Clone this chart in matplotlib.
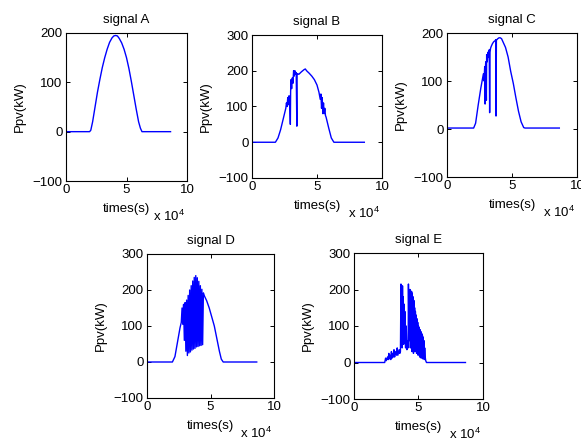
import matplotlib
matplotlib.use("Agg")
import matplotlib.pyplot as plt

plt.rcParams['font.family'] = ['Liberation Sans', 'DejaVu Sans']
plt.rcParams['mathtext.fontset'] = 'custom'
plt.rcParams['mathtext.rm'] = 'Liberation Sans'
plt.rcParams['mathtext.it'] = 'Liberation Sans'

# time in units of 10^4 s, power in kW
tA = [0, 1.95, 2.05, 2.2, 2.4, 2.6, 2.8, 3.0, 3.2, 3.4, 3.6, 3.8, 3.95, 4.1, 4.25,
      4.4, 4.6, 4.8, 5.0, 5.2, 5.4, 5.6, 5.8, 6.0, 6.15, 6.28, 8.64]
pA = [0, 0, 3, 20, 50, 80, 106, 130, 150, 167, 181, 190, 194, 195, 194,
      189, 180, 167, 150, 128, 102, 74, 46, 20, 7, 0, 0]

tB = [0, 1.8, 2.0, 2.2, 2.4, 2.6, 2.65, 2.7, 2.75, 2.8, 2.85, 2.9, 2.95, 2.97, 3.0,
      3.05, 3.1, 3.15, 3.2, 3.25, 3.3, 3.35, 3.4, 3.45, 3.47, 3.5, 3.6, 3.8, 4.0,
      4.1, 4.2, 4.4, 4.6, 4.8, 5.0, 5.15, 5.25, 5.3, 5.35, 5.4, 5.45, 5.5, 5.55,
      5.6, 5.65, 5.7, 5.9, 6.1, 6.3, 8.64]
pB = [0, 0, 12, 35, 65, 95, 110, 100, 125, 105, 130, 115, 50, 140, 175,
      150, 180, 165, 200, 185, 200, 190, 195, 45, 190, 192, 190, 197, 203,
      205, 200, 193, 185, 175, 160, 140, 120, 135, 95, 125, 80, 110, 80,
      95, 75, 70, 40, 12, 0, 0]

tC = [0, 2.05, 2.2, 2.4, 2.6, 2.8, 2.85, 2.9, 2.93, 2.95, 2.98, 3.0, 3.03, 3.05,
      3.1, 3.15, 3.2, 3.25, 3.28, 3.31, 3.35, 3.4, 3.5, 3.6, 3.7, 3.75, 3.77,
      3.8, 3.9, 4.0, 4.1, 4.2, 4.3, 4.5, 4.7, 4.9, 5.1, 5.3, 5.5, 5.7, 5.9, 6.0, 8.64]
pC = [2, 2, 12, 50, 85, 115, 100, 130, 52, 125, 140, 120, 60, 155,
      140, 160, 150, 165, 34, 160, 168, 172, 178, 182, 184, 186, 27,
      185, 188, 190, 190, 188, 182, 170, 150, 120, 95, 65, 37, 15, 3, 2, 2]

tD = [0, 2.0, 2.2, 2.4, 2.6, 2.7,
      2.76, 2.82, 2.88, 2.94, 3.00, 3.06, 3.12, 3.18, 3.24, 3.30, 3.36, 3.42,
      3.48, 3.54, 3.60, 3.66, 3.72, 3.78, 3.84, 3.90, 3.96, 4.02, 4.08, 4.14,
      4.20, 4.26, 4.32, 4.38, 4.44,
      4.5, 4.7, 4.9, 5.1, 5.3, 5.5, 5.7, 5.85, 6.0, 8.64]
pD = [0, 0, 15, 55, 95, 110,
      150, 105, 160, 60, 165, 30, 172, 18, 185, 25, 200, 28,
      212, 33, 225, 36, 235, 38, 240, 42, 234, 43, 224, 45,
      212, 46, 202, 48, 192,
      185, 170, 150, 125, 100, 65, 30, 8, 0, 0]

tE = [0, 2.38, 2.45, 2.5, 2.6, 2.65, 2.7, 2.75, 2.8, 2.85, 2.9, 2.95, 3.0, 3.05,
      3.1, 3.15, 3.2, 3.3, 3.35, 3.4, 3.5, 3.55, 3.6,
      3.64, 3.67, 3.70, 3.73, 3.76, 3.79, 3.82, 3.85, 3.88, 3.91, 3.94, 3.97,
      4.0, 4.05, 4.1, 4.15, 4.2,
      4.22, 4.25, 4.28, 4.31, 4.34, 4.37, 4.40, 4.43, 4.46, 4.49, 4.52, 4.55,
      4.58, 4.61, 4.64, 4.67, 4.70, 4.73, 4.76, 4.79, 4.82, 4.85, 4.88, 4.91,
      4.94, 4.97, 5.00, 5.03, 5.06, 5.09, 5.12, 5.15, 5.18, 5.21, 5.24, 5.27,
      5.30, 5.33, 5.36, 5.39, 5.42, 5.45, 5.48, 5.52, 5.56, 5.62, 8.64]
pE = [0, 0, 12, 5, 15, 8, 25, 10, 20, 8, 30, 12, 25, 15,
      35, 15, 30, 20, 40, 20, 35, 25, 30,
      215, 60, 200, 40, 210, 90, 180, 50, 160, 80, 140, 60,
      40, 100, 35, 60, 40,
      215, 90, 200, 60, 200, 40, 195, 70, 195, 30, 190, 60,
      180, 25, 170, 50, 150, 30, 140, 55, 130, 25, 120, 40,
      110, 20, 100, 35, 95, 15, 90, 30, 85, 12, 80, 25,
      75, 10, 70, 20, 60, 8, 40, 15, 5, 0, 0]

titles = ["signal A", "signal B", "signal C", "signal D", "signal E"]
series = [(tA, pA), (tB, pB), (tC, pC), (tD, pD), (tE, pE)]
ytops = [200, 300, 200, 300, 300]
xticks = [0, 5, 10]

W, H = 581, 441
# axes boxes in pixels: left, top, right, bottom
boxes = [(66, 33, 187, 181), (252, 35, 382, 178), (447, 33, 577, 177),
         (147, 254, 274, 398), (354, 253, 483, 399)]

FS = 9.5
fig = plt.figure(figsize=(W / 100, H / 100), dpi=100)
fig.patch.set_facecolor('white')
for (l, t, r, b), title, (tt, pp), ytop in zip(boxes, titles, series, ytops):
    ax = fig.add_axes([l / W, 1 - b / H, (r - l) / W, (b - t) / H])
    ax.plot(tt, pp, color=(0, 0, 1), lw=1.0)
    ax.set_xlim(0, 10)
    ax.set_ylim(-100, ytop)
    ax.set_xticks(xticks)
    ax.set_yticks(list(range(-100, ytop + 1, 100)))
    ax.tick_params(direction='in', top=True, right=True, length=3, width=0.7,
                   labelsize=FS, pad=2.5)
    for s in ax.spines.values():
        s.set_linewidth(0.8)
    ax.set_title(title, fontsize=FS, pad=7.5)
    ax.set_ylabel("Ppv(kW)", fontsize=FS, labelpad=5)
    ax.set_xlabel("times(s)", fontsize=FS, labelpad=5)
    ax.annotate(r'x 10$^{4}$', xy=(1, 0), xycoords='axes fraction',
                xytext=(-2, -35), textcoords='offset pixels',
                ha='right', va='center', fontsize=FS)

fig.savefig("out.png", dpi=100)
